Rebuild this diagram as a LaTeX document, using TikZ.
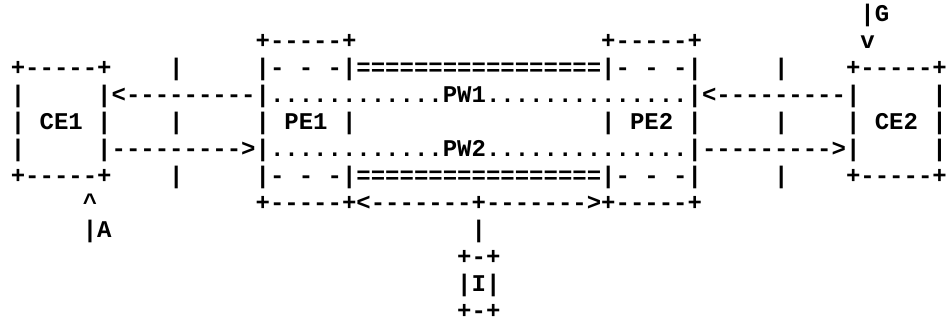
\documentclass[tikz,border=0pt]{standalone}
\usepackage{fontspec}
\setmonofont{Liberation Mono}
\usepackage{tikz}

\tikzset{
  asc/.style={anchor=base west, inner sep=0pt, outer sep=0pt,
    font=\ttfamily\bfseries\fontsize{24}{24}\selectfont}
}

\begin{document}
\begin{tikzpicture}[x=14.4pt, y=-27.0pt] % one unit = one character cell

    \useasboundingbox (-0.75,-0.778) rectangle (65.361,11.185);

    % Top: G and the two PE lids
    \node [asc] (gtag)   at (59,0) {|G};
    \node [asc] (pe1lid) at (17,1) {+-----+};
    \node [asc] (pe2lid) at (41,1) {+-----+};
    \node [asc] (gdown)  at (59,1) {v};

    % Upper edge
    \node [asc] (ce1top) at (0,2)  {+-----+};
    \node [asc] (acl)    at (11,2) {|};
    \node [asc] (pwtop)  at (17,2) {|- - -|=================|- - -|};
    \node [asc] (acr)    at (53,2) {|};
    \node [asc] (ce2top) at (58,2) {+-----+};

    % PW1 row
    \node [asc] (ce1a)   at (0,3)  {|};
    \node [asc] (pw1)    at (6,3)  {|<---------|............PW1..............|<---------|};
    \node [asc] (ce2a)   at (64,3) {|};

    % Middle row with the labels
    \node [asc] (ce1)    at (0,4)  {| CE1 |};
    \node [asc] (acl2)   at (11,4) {|};
    \node [asc] (pe1)    at (17,4) {| PE1 |};
    \node [asc] (pe2)    at (41,4) {| PE2 |};
    \node [asc] (acr2)   at (53,4) {|};
    \node [asc] (ce2)    at (58,4) {| CE2 |};

    % PW2 row
    \node [asc] (ce1b)   at (0,5)  {|};
    \node [asc] (pw2)    at (6,5)  {|--------->|............PW2..............|--------->|};
    \node [asc] (ce2b)   at (64,5) {|};

    % Lower edge
    \node [asc] (ce1bot) at (0,6)  {+-----+};
    \node [asc] (acl3)   at (11,6) {|};
    \node [asc] (pwbot)  at (17,6) {|- - -|=================|- - -|};
    \node [asc] (acr3)   at (53,6) {|};
    \node [asc] (ce2bot) at (58,6) {+-----+};

    % A below CE1, span between the PEs
    \node [asc] (aup)    at (5,7)  {\textasciicircum};
    \node [asc] (span)   at (17,7) {+-----+<-------+------->+-----+};
    \node [asc] (atag)   at (5,8)  {|A};
    \node [asc] (istem)  at (32,8) {|};

    % I box
    \node [asc] (itop)   at (31,9)  {+-+};
    \node [asc] (ibox)   at (31,10) {|I|};
    \node [asc] (ibot)   at (31,11) {+-+};

\end{tikzpicture}
\end{document}
